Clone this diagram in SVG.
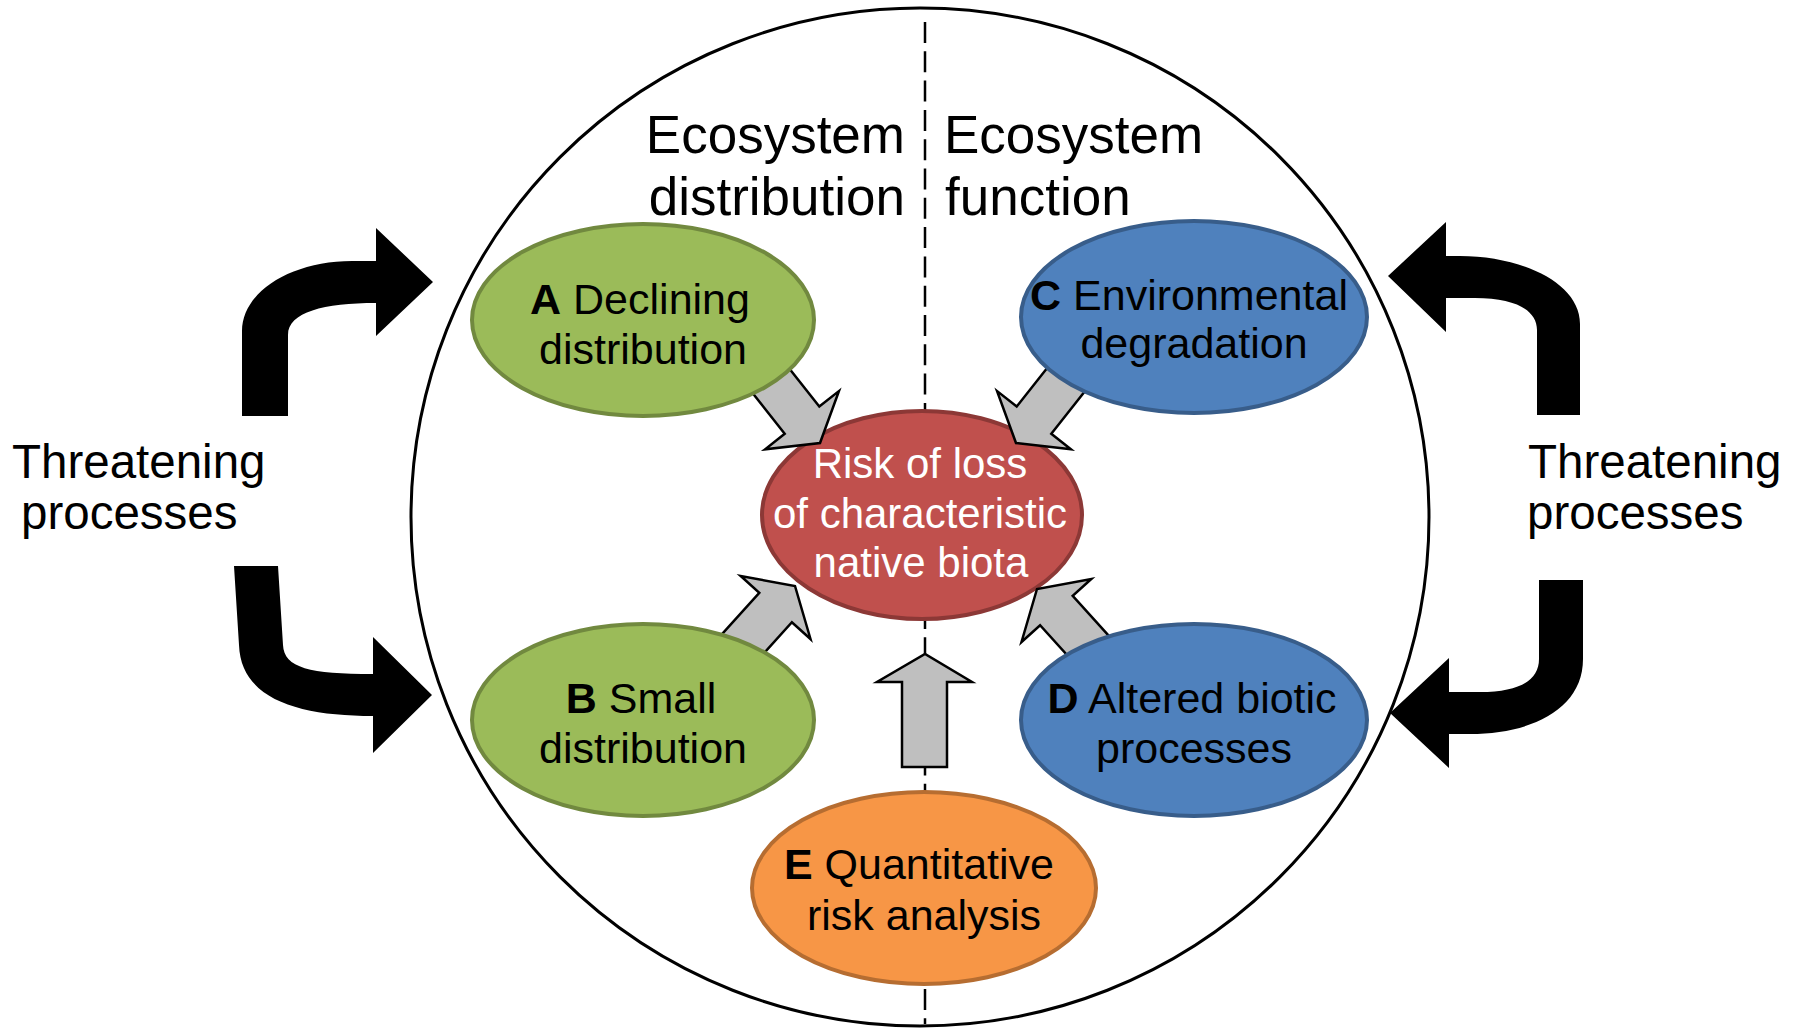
<svg xmlns="http://www.w3.org/2000/svg" width="1800" height="1029" viewBox="0 0 1800 1029">
  <style>
    text { font-family: "Liberation Sans", Arial, sans-serif; }
    .title { font-size: 53px; fill: #000; }
    .threat { font-size: 47.5px; fill: #000; }
    .label { font-size: 43px; fill: #000; text-anchor: middle; }
    .core-label { font-size: 42px; fill: #fff; text-anchor: middle; }
    .b { font-weight: bold; }
    .green { fill: #9BBB59; stroke: #71893F; stroke-width: 4; }
    .blue { fill: #4F81BD; stroke: #385D8A; stroke-width: 4; }
    .red { fill: #C0504D; stroke: #8C3836; stroke-width: 4; }
    .orange { fill: #F79646; stroke: #B66D31; stroke-width: 4; }
    .block { fill: #BFBFBF; stroke: #000; stroke-width: 2.5; stroke-linejoin: miter; }
    .bent { fill: #000; }
  </style>

  <!-- outer boundary and divider -->
  <g id="frame">
    <circle cx="920" cy="517" r="509" fill="none" stroke="#000" stroke-width="3"/>
    <line x1="925" y1="22" x2="925" y2="1024" stroke="#000" stroke-width="2.5" stroke-dasharray="21 8.3"/>
  </g>

  <!-- headings -->
  <g id="heading-distribution">
    <text class="title" x="905" y="153" text-anchor="end">Ecosystem</text>
    <text class="title" x="905" y="215" text-anchor="end">distribution</text>
  </g>
  <g id="heading-function">
    <text class="title" x="944" y="153">Ecosystem</text>
    <text class="title" x="945" y="215">function</text>
  </g>

  <!-- side labels -->
  <g id="threats-left">
    <text class="threat" x="12" y="478">Threatening</text>
    <text class="threat" x="21" y="529">processes</text>
  </g>
  <g id="threats-right">
    <text class="threat" x="1528" y="478">Threatening</text>
    <text class="threat" x="1527" y="529">processes</text>
  </g>

  <!-- central outcome -->
  <g id="node-risk">
    <ellipse class="red" cx="922" cy="515" rx="160" ry="104"/>
    <text class="core-label" x="920" y="478">Risk of loss</text>
    <text class="core-label" x="920" y="528">of characteristic</text>
    <text class="core-label" x="921" y="577">native biota</text>
  </g>

  <!-- connectors: block arrows into the centre, bent arrows for threats -->
  <g id="connectors">
    <path id="arrow-a" class="block" d="M716.5,347.4 L784.7,433.8 L765.1,449.3 L820,443 L838.9,391.1 L819.3,406.6 L751.1,320.2 Z"/>
    <path id="arrow-c" class="block" d="M1119.5,347.4 L1051.3,433.8 L1070.9,449.3 L1016,443 L997.1,391.1 L1016.7,406.6 L1084.9,320.2 Z"/>
    <path id="arrow-b" class="block" d="M685.6,674.4 L759.3,592.8 L740.7,576 L795,586 L810.5,639 L791.9,622.2 L718.2,703.8 Z"/>
    <path id="arrow-d" class="block" d="M1146.4,677.4 L1072.7,595.8 L1091.3,579 L1037,589 L1021.5,642 L1040.1,625.2 L1113.8,706.8 Z"/>
    <path id="arrow-e" class="block" d="M902,767 L902,682 L877,682 L925,654 L972,682 L947,682 L947,767 Z"/>

    <path id="threat-left-top" class="bent" d="M242,416 L242,331 C242,292 291,261 352,261 L376,261 L376,228 L433,282 L376,336 L376,303 C324,303 288,312 288,335 L288,416 Z"/>
    <path id="threat-left-bottom" class="bent" d="M234,566 L278,566 L283,645 C284,668 310,674 373,674 L373,637 L432,695 L373,753 L373,716 C300,716 241,700 239,645 Z"/>
    <path id="threat-right-top" class="bent" d="M1580,415 L1580,324 C1580,282 1520,256 1460,256 L1446,256 L1446,222 L1388,276 L1446,332 L1446,298 L1475,298 C1515,298 1537,310 1537,330 L1537,415 Z"/>
    <path id="threat-right-bottom" class="bent" d="M1539,580 L1583,580 L1583,659 C1583,710 1530,734 1470,734 L1449,734 L1449,768 L1390,713 L1449,658 L1449,692 L1480,692 C1520,692 1539,680 1539,659 Z"/>
  </g>

  <!-- criteria -->
  <g id="node-a">
    <ellipse class="green" cx="643" cy="320" rx="171" ry="96"/>
    <text class="label" x="640" y="314"><tspan class="b">A</tspan> Declining</text>
    <text class="label" x="643" y="364">distribution</text>
  </g>
  <g id="node-b">
    <ellipse class="green" cx="643" cy="720" rx="171" ry="96"/>
    <text class="label" x="641" y="713"><tspan class="b">B</tspan> Small</text>
    <text class="label" x="643" y="763">distribution</text>
  </g>
  <g id="node-c">
    <ellipse class="blue" cx="1194" cy="317" rx="173" ry="96"/>
    <text class="label" x="1189" y="310"><tspan class="b">C</tspan> Environmental</text>
    <text class="label" x="1194" y="358">degradation</text>
  </g>
  <g id="node-d">
    <ellipse class="blue" cx="1194" cy="720" rx="173" ry="96"/>
    <text class="label" x="1192" y="713"><tspan class="b">D</tspan> Altered biotic</text>
    <text class="label" x="1194" y="763">processes</text>
  </g>
  <g id="node-e">
    <ellipse class="orange" cx="924" cy="888" rx="172" ry="96"/>
    <text class="label" x="919" y="879"><tspan class="b">E</tspan> Quantitative</text>
    <text class="label" x="924" y="930">risk analysis</text>
  </g>
</svg>
